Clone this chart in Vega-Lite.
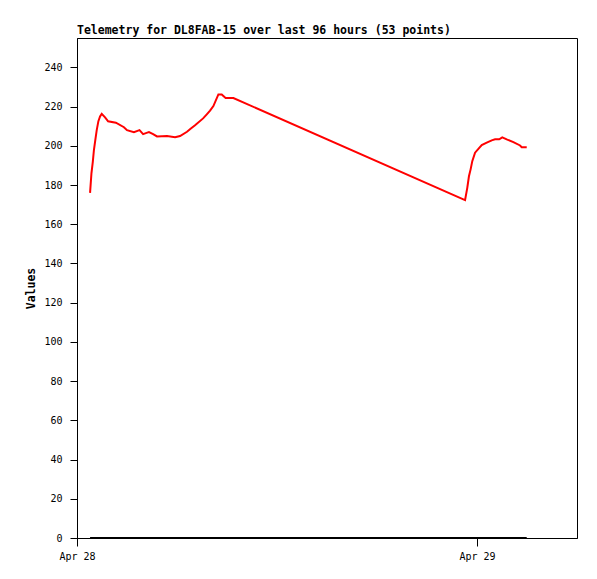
{
  "$schema": "https://vega.github.io/schema/vega-lite/v6.json",
  "width": 500,
  "height": 500,
  "autosize": "none",
  "padding": {"left": 77, "top": 38, "right": 20, "bottom": 41},
  "background": "white",
  "title": {
    "text": "Telemetry for DL8FAB-15 over last 96 hours (53 points)",
    "anchor": "start",
    "frame": "group",
    "font": "DejaVu Sans Mono",
    "fontSize": 11.5,
    "fontWeight": "bold",
    "color": "black",
    "offset": 2
  },
  "data": {
    "values": [
      {"time": "2025-04-28T00:47:00Z", "value": 176, "base": 0},
      {"time": "2025-04-28T00:52:00Z", "value": 186, "base": 0},
      {"time": "2025-04-28T00:57:00Z", "value": 192, "base": 0},
      {"time": "2025-04-28T01:01:00Z", "value": 198, "base": 0},
      {"time": "2025-04-28T01:06:00Z", "value": 203, "base": 0},
      {"time": "2025-04-28T01:11:00Z", "value": 208, "base": 0},
      {"time": "2025-04-28T01:17:00Z", "value": 212.6, "base": 0},
      {"time": "2025-04-28T01:23:00Z", "value": 215, "base": 0},
      {"time": "2025-04-28T01:29:00Z", "value": 216.3, "base": 0},
      {"time": "2025-04-28T01:41:00Z", "value": 214.5, "base": 0},
      {"time": "2025-04-28T01:52:00Z", "value": 212.5, "base": 0},
      {"time": "2025-04-28T02:20:00Z", "value": 211.8, "base": 0},
      {"time": "2025-04-28T02:49:00Z", "value": 209.5, "base": 0},
      {"time": "2025-04-28T03:00:00Z", "value": 208, "base": 0},
      {"time": "2025-04-28T03:25:00Z", "value": 207, "base": 0},
      {"time": "2025-04-28T03:45:00Z", "value": 208, "base": 0},
      {"time": "2025-04-28T03:58:00Z", "value": 206, "base": 0},
      {"time": "2025-04-28T04:08:00Z", "value": 206.5, "base": 0},
      {"time": "2025-04-28T04:19:00Z", "value": 207, "base": 0},
      {"time": "2025-04-28T04:34:00Z", "value": 206, "base": 0},
      {"time": "2025-04-28T04:48:00Z", "value": 204.8, "base": 0},
      {"time": "2025-04-28T05:24:00Z", "value": 205, "base": 0},
      {"time": "2025-04-28T05:53:00Z", "value": 204.4, "base": 0},
      {"time": "2025-04-28T06:11:00Z", "value": 205, "base": 0},
      {"time": "2025-04-28T06:36:00Z", "value": 207.2, "base": 0},
      {"time": "2025-04-28T06:50:00Z", "value": 208.8, "base": 0},
      {"time": "2025-04-28T07:05:00Z", "value": 210.5, "base": 0},
      {"time": "2025-04-28T07:34:00Z", "value": 214, "base": 0},
      {"time": "2025-04-28T07:48:00Z", "value": 216.2, "base": 0},
      {"time": "2025-04-28T07:59:00Z", "value": 218, "base": 0},
      {"time": "2025-04-28T08:11:00Z", "value": 220.3, "base": 0},
      {"time": "2025-04-28T08:29:00Z", "value": 226.2, "base": 0},
      {"time": "2025-04-28T08:41:00Z", "value": 226.2, "base": 0},
      {"time": "2025-04-28T08:55:00Z", "value": 224.4, "base": 0},
      {"time": "2025-04-28T09:23:00Z", "value": 224.4, "base": 0},
      {"time": "2025-04-28T23:17:00Z", "value": 172.3, "base": 0},
      {"time": "2025-04-28T23:25:00Z", "value": 178.6, "base": 0},
      {"time": "2025-04-28T23:31:00Z", "value": 184.5, "base": 0},
      {"time": "2025-04-28T23:37:00Z", "value": 188, "base": 0},
      {"time": "2025-04-28T23:43:00Z", "value": 192.2, "base": 0},
      {"time": "2025-04-28T23:53:00Z", "value": 196.5, "base": 0},
      {"time": "2025-04-29T00:05:00Z", "value": 198.5, "base": 0},
      {"time": "2025-04-29T00:17:00Z", "value": 200.4, "base": 0},
      {"time": "2025-04-29T00:35:00Z", "value": 201.6, "base": 0},
      {"time": "2025-04-29T00:53:00Z", "value": 202.8, "base": 0},
      {"time": "2025-04-29T01:05:00Z", "value": 203.3, "base": 0},
      {"time": "2025-04-29T01:20:00Z", "value": 203.3, "base": 0},
      {"time": "2025-04-29T01:31:00Z", "value": 204.3, "base": 0},
      {"time": "2025-04-29T01:47:00Z", "value": 203.3, "base": 0},
      {"time": "2025-04-29T02:11:00Z", "value": 201.9, "base": 0},
      {"time": "2025-04-29T02:35:00Z", "value": 200.2, "base": 0},
      {"time": "2025-04-29T02:41:00Z", "value": 199.3, "base": 0},
      {"time": "2025-04-29T02:59:00Z", "value": 199.3, "base": 0}
    ]
  },
  "encoding": {
    "x": {
      "field": "time",
      "type": "temporal",
      "title": null,
      "scale": {
        "type": "utc",
        "domain": [
          {"year": 2025, "month": 4, "date": 28, "hours": 0, "utc": true},
          {"year": 2025, "month": 4, "date": 29, "hours": 6, "utc": true}
        ]
      },
      "axis": {
        "values": [
          {"year": 2025, "month": 4, "date": 28, "utc": true},
          {"year": 2025, "month": 4, "date": 29, "utc": true}
        ],
        "format": "%b %d",
        "grid": false,
        "tickSize": 8,
        "tickColor": "black",
        "domainColor": "black",
        "labelFont": "DejaVu Sans Mono",
        "labelFontSize": 10,
        "labelColor": "black",
        "labelPadding": 5,
        "labelFlush": false,
        "labelOverlap": false
      }
    }
  },
  "layer": [
    {
      "mark": {"type": "line", "color": "black", "strokeWidth": 2, "clip": true},
      "encoding": {
        "y": {"field": "base", "type": "quantitative"}
      }
    },
    {
      "mark": {"type": "line", "color": "#ff0000", "strokeWidth": 2, "clip": true},
      "encoding": {
        "y": {
          "field": "value",
          "type": "quantitative",
          "title": "Values",
          "scale": {"domain": [0, 255], "nice": false, "zero": true},
          "axis": {
            "values": [0, 20, 40, 60, 80, 100, 120, 140, 160, 180, 200, 220, 240],
            "grid": false,
            "tickSize": 7,
            "tickColor": "black",
            "domainColor": "black",
            "labelFont": "DejaVu Sans Mono",
            "labelFontSize": 10,
            "labelColor": "black",
            "labelPadding": 8,
            "titleFont": "DejaVu Sans Mono",
            "titleFontSize": 11.5,
            "titleFontWeight": "bold",
            "titleColor": "black",
            "titlePadding": 7
          }
        }
      }
    }
  ],
  "config": {
    "view": {"stroke": "black", "strokeWidth": 1},
    "axis": {"domainWidth": 1, "tickWidth": 1}
  }
}
